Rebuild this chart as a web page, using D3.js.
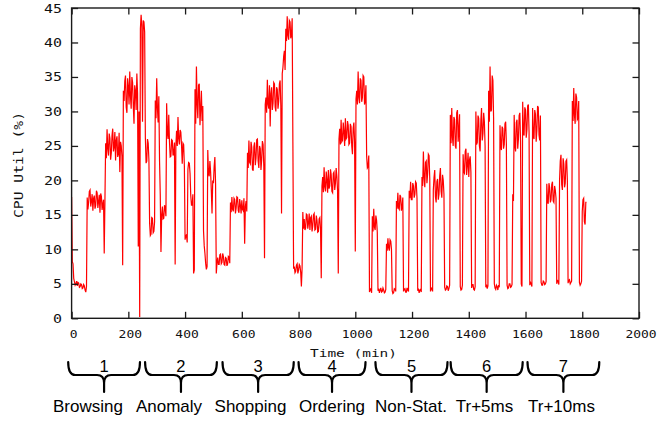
<!DOCTYPE html>
<html><head><meta charset="utf-8">
<script src="https://cdn.jsdelivr.net/npm/d3@7"></script>
<style>html,body{margin:0;padding:0;background:#fff;} svg{display:block}</style>
</head><body>
<svg id="chart" width="658" height="421"></svg>
<script>
// ---- data ----
const startMin = 0;
const stepMin = 2.5;
const cpuUtil = [
 17.6, 8.2, 7.9, 5.8, 5.3, 4.8, 5.0, 5.4, 4.7, 5.2,
 5.1, 4.5, 4.6, 5.0, 4.9, 4.3, 4.4, 4.9, 4.7, 4.1,
 3.8, 4.6, 17.5, 15.8, 16.8, 18.4, 18.6, 16.2, 17.0, 18.0,
 15.6, 17.4, 17.8, 15.9, 16.4, 18.5, 18.2, 16.0, 16.9, 17.9,
 15.3, 18.1, 17.7, 15.7, 16.6, 17.2, 9.4, 17.0, 25.4, 23.2,
 27.4, 24.6, 23.6, 26.8, 26.1, 23.0, 24.0, 26.5, 27.5, 24.2,
 24.8, 27.0, 22.9, 25.8, 26.4, 23.4, 23.8, 26.9, 21.2, 25.6,
 25.0, 23.5, 7.7, 33.0, 31.5, 34.4, 35.2, 30.6, 29.8, 34.8,
 33.6, 31.0, 35.8, 32.2, 30.4, 35.0, 34.2, 30.8, 28.2, 33.8,
 33.0, 30.2, 35.5, 32.6, 10.4, 30.0, 0.2, 42.0, 44.0, 42.5,
 28.5, 43.2, 43.0, 41.5, 26.2, 22.5, 22.8, 26.0, 25.4, 23.0,
 13.8, 12.0, 12.2, 14.6, 14.5, 12.4, 12.6, 14.0, 31.6, 29.0,
 34.8, 30.5, 28.4, 32.2, 22.8, 18.0, 9.6, 15.0, 16.2, 14.4,
 14.5, 16.4, 16.0, 14.8, 31.2, 27.0, 26.0, 29.5, 25.6, 23.4,
 23.5, 25.9, 25.8, 23.6, 24.0, 25.5, 7.8, 25.0, 27.2, 25.0,
 29.2, 26.0, 25.2, 27.3, 27.0, 25.1, 22.4, 25.4, 25.2, 22.1,
 11.4, 12.0, 12.1, 11.0, 21.6, 22.6, 22.5, 21.0, 17.8, 16.4,
 16.4, 18.0, 6.5, 7.0, 33.2, 28.2, 36.5, 31.0, 29.0, 33.8,
 34.0, 28.0, 30.4, 33.0, 28.6, 30.8, 12.7, 10.5, 9.4, 8.0,
 7.1, 7.5, 24.4, 21.0, 20.6, 22.8, 21.2, 18.5, 15.2, 20.0,
 19.6, 22.0, 23.4, 19.5, 6.5, 8.0, 8.8, 7.8, 7.8, 9.2,
 9.3, 7.9, 8.1, 9.4, 9.0, 7.8, 7.7, 8.8, 8.7, 7.6,
 7.9, 9.0, 8.9, 8.0, 16.8, 15.4, 17.6, 15.8, 15.5, 17.4,
 17.2, 15.2, 16.0, 17.6, 17.5, 15.6, 15.3, 17.3, 16.4, 15.2,
 17.1, 15.8, 15.6, 17.4, 10.8, 16.2, 17.0, 15.5, 24.0, 21.8,
 25.8, 22.6, 22.4, 25.6, 24.8, 21.6, 21.4, 24.9, 25.5, 22.2,
 23.2, 25.9, 26.0, 22.8, 21.8, 25.0, 24.6, 21.5, 23.0, 25.7,
 25.2, 22.0, 8.7, 31.0, 32.0, 29.8, 34.6, 31.0, 30.4, 33.8,
 27.8, 32.6, 33.5, 30.2, 31.2, 34.2, 34.0, 30.6, 30.0, 33.5,
 33.2, 30.4, 31.5, 34.0, 34.5, 30.8, 15.2, 35.5, 36.4, 38.0,
 38.8, 36.0, 42.0, 40.2, 43.8, 41.0, 40.4, 43.2, 43.0, 40.6,
 41.2, 43.5, 25.4, 7.2, 7.5, 6.6, 6.8, 7.7, 7.9, 6.5,
 7.0, 7.8, 7.6, 6.7, 4.6, 7.3, 15.4, 13.0, 14.4, 12.8,
 13.1, 15.1, 15.0, 13.0, 13.8, 15.2, 12.8, 14.6, 14.8, 12.6,
 13.4, 15.0, 15.2, 12.8, 12.9, 14.9, 14.2, 12.5, 12.6, 14.4,
 14.6, 12.9, 5.8, 19.2, 20.5, 18.3, 21.9, 19.0, 18.4, 21.3,
 20.0, 18.2, 21.5, 18.8, 19.2, 21.6, 20.8, 18.4, 18.2, 21.0,
 21.2, 18.6, 19.6, 21.8, 20.6, 18.5, 6.5, 26.0, 27.5, 25.2,
 28.8, 25.6, 25.8, 28.4, 27.0, 25.0, 29.0, 26.0, 26.2, 28.6,
 28.0, 25.2, 25.4, 28.2, 27.8, 25.0, 23.8, 27.6, 28.4, 25.6,
 9.7, 31.8, 33.0, 31.0, 35.8, 32.0, 31.2, 34.8, 34.5, 31.4,
 32.0, 35.2, 35.0, 31.0, 31.5, 33.8, 23.5, 21.8, 22.0, 23.6,
 3.8, 4.2, 4.3, 3.7, 14.8, 12.6, 15.9, 13.2, 12.8, 14.9,
 14.2, 12.5, 4.0, 4.3, 3.7, 4.1, 4.4, 3.8, 3.9, 4.4,
 4.1, 3.7, 3.8, 4.2, 10.8, 9.8, 11.6, 10.2, 9.8, 11.4,
 11.2, 10.0, 4.0, 3.6, 3.7, 4.3, 4.2, 3.9, 17.0, 15.9,
 18.2, 16.0, 15.8, 17.9, 17.6, 15.6, 16.2, 17.5, 3.9, 4.2,
 4.3, 3.8, 3.8, 4.4, 4.1, 3.9, 18.5, 17.4, 19.8, 17.2,
 17.2, 19.6, 19.2, 17.5, 18.0, 19.8, 19.6, 17.4, 4.0, 4.3,
 3.7, 4.1, 4.2, 3.8, 20.5, 19.2, 24.2, 20.4, 19.0, 22.6,
 22.8, 19.6, 21.0, 23.8, 23.6, 20.2, 3.9, 4.4, 4.3, 3.9,
 18.6, 20.4, 21.5, 17.6, 16.8, 19.8, 20.2, 17.2, 18.0, 20.6,
 21.8, 18.4, 17.5, 20.8, 20.0, 18.0, 4.5, 4.1, 4.2, 4.7,
 4.6, 4.0, 4.3, 4.8, 29.5, 25.4, 30.5, 26.2, 25.0, 29.2,
 28.8, 25.0, 24.6, 29.8, 30.2, 25.6, 27.5, 29.6, 4.6, 4.1,
 4.2, 4.8, 23.8, 21.2, 21.0, 24.2, 24.6, 20.8, 22.2, 24.0,
 20.5, 23.0, 23.5, 21.2, 4.4, 4.9, 4.9, 4.2, 4.1, 4.6,
 30.0, 25.2, 25.5, 29.4, 29.0, 25.0, 24.2, 28.6, 30.5, 25.8,
 26.8, 29.8, 28.5, 25.0, 4.5, 4.9, 4.3, 4.7, 33.0, 28.5,
 36.5, 30.0, 30.2, 35.2, 34.5, 29.0, 5.0, 4.4, 4.2, 4.8,
 4.6, 4.1, 4.8, 4.5, 28.0, 25.0, 24.4, 27.8, 27.5, 24.6,
 25.2, 28.2, 28.5, 25.4, 4.8, 4.3, 4.4, 5.0, 5.0, 4.5,
 4.6, 4.9, 18.0, 17.0, 29.5, 25.0, 24.2, 28.4, 28.8, 24.6,
 26.0, 29.4, 29.8, 25.6, 5.0, 4.6, 31.4, 26.8, 26.5, 30.6,
 30.2, 26.2, 27.4, 30.8, 31.0, 27.0, 4.8, 5.2, 5.0, 4.6,
 30.5, 26.4, 26.0, 30.2, 29.6, 25.6, 27.2, 30.8, 30.6, 26.6,
 25.8, 29.4, 5.2, 4.8, 4.8, 5.4, 5.3, 4.9, 5.0, 5.3,
 19.5, 17.0, 16.6, 19.6, 19.0, 16.8, 17.2, 19.4, 19.8, 17.0,
 16.8, 19.2, 18.6, 17.4, 5.0, 5.5, 5.4, 4.9, 20.0, 22.8,
 23.7, 19.4, 18.6, 23.2, 22.4, 19.0, 19.6, 22.8, 23.0, 20.0,
 5.1, 5.5, 5.6, 5.0, 5.2, 5.4, 31.5, 28.6, 33.4, 29.4,
 28.2, 32.6, 32.0, 28.8, 29.0, 31.5, 5.2, 4.8, 5.0, 5.4,
 15.5, 17.2, 17.4, 14.0, 13.6, 16.8, 16.8
];
const xTicks = [0, 200, 400, 600, 800, 1000, 1200, 1400, 1600, 1800, 2000];
const yTicks = [0, 5, 10, 15, 20, 25, 30, 35, 40, 45];
const xLabel = "Time (min)";
const yLabel = "CPU Util (%)";
const phaseNumbers = ["1", "2", "3", "4", "5", "6", "7"];
const phaseNames = ["Browsing", "Anomaly", "Shopping", "Ordering", "Non-Stat.", "Tr+5ms", "Tr+10ms"];
const phaseStartMin = [-12, 259, 532, 800, 1071, 1336, 1607];
const phaseEndMin = [241, 512, 783, 1036, 1325, 1590, 1860];

// ---- layout ----
const svg = d3.select("#chart");
const plot = {left: 71.6, right: 639, top: 8, bottom: 318.3};
const x = d3.scaleLinear().domain([0, 2000]).range([plot.left, plot.right]);
const y = d3.scaleLinear().domain([0, 45]).range([plot.bottom, plot.top]);
const monoFont = "'DejaVu Sans Mono', 'Liberation Mono', monospace";
const sansFont = "'Liberation Sans', Arial, sans-serif";

// series
const pts = cpuUtil.map((v, i) => [startMin + i * stepMin, v]);
svg.append("path")
  .datum(pts)
  .attr("fill", "none")
  .attr("stroke", "#ff0000")
  .attr("stroke-width", 1.2)
  .attr("stroke-linejoin", "miter")
  .attr("d", d3.line().x(d => x(d[0])).y(d => y(d[1])));

// axes (gnuplot-like: inward ticks, mirrored)
const tickLen = 6.5;
const axisStyle = g => {
  g.select(".domain").remove();
  g.selectAll(".tick line").attr("stroke", "#1a1a1a").attr("stroke-width", 1.3);
  g.selectAll(".tick text").remove();
};
svg.append("g").attr("transform", `translate(0,${plot.bottom})`)
  .call(d3.axisBottom(x).tickValues(xTicks).tickSizeInner(-tickLen).tickSizeOuter(0)).call(axisStyle);
svg.append("g").attr("transform", `translate(0,${plot.top})`)
  .call(d3.axisTop(x).tickValues(xTicks).tickSizeInner(-tickLen).tickSizeOuter(0)).call(axisStyle);
svg.append("g").attr("transform", `translate(${plot.left},0)`)
  .call(d3.axisLeft(y).tickValues(yTicks).tickSizeInner(-tickLen).tickSizeOuter(0)).call(axisStyle);
svg.append("g").attr("transform", `translate(${plot.right},0)`)
  .call(d3.axisRight(y).tickValues(yTicks).tickSizeInner(-tickLen).tickSizeOuter(0)).call(axisStyle);

// frame
svg.append("rect")
  .attr("x", plot.left).attr("y", plot.top)
  .attr("width", plot.right - plot.left).attr("height", plot.bottom - plot.top)
  .attr("fill", "none").attr("stroke", "#1a1a1a").attr("stroke-width", 1.4);

// tick labels
svg.append("g").selectAll("text").data(yTicks).join("text")
  .attr("x", 62).attr("y", d => y(d)).attr("dy", "0.36em")
  .attr("text-anchor", "end")
  .attr("font-family", monoFont).attr("font-size", 12.5).attr("fill", "#111")
  .attr("textLength", d => String(d).length * 9).attr("lengthAdjust", "spacingAndGlyphs")
  .text(d => d);
svg.append("g").selectAll("text").data(xTicks).join("text")
  .attr("x", d => x(d) + 2).attr("y", 337.5)
  .attr("text-anchor", "middle")
  .attr("font-family", monoFont).attr("font-size", 11.2).attr("fill", "#111")
  .attr("textLength", d => String(d).length * 7.8).attr("lengthAdjust", "spacingAndGlyphs")
  .text(d => d);

// axis titles
svg.append("text")
  .attr("x", 353.5).attr("y", 356.5).attr("text-anchor", "middle")
  .attr("font-family", monoFont).attr("font-size", 11.2).attr("fill", "#111")
  .attr("textLength", 87).attr("lengthAdjust", "spacingAndGlyphs")
  .text(xLabel);
svg.append("text")
  .attr("transform", "translate(23.3,165) rotate(-90)")
  .attr("text-anchor", "middle")
  .attr("font-family", monoFont).attr("font-size", 11.5).attr("fill", "#111")
  .attr("textLength", 106).attr("lengthAdjust", "spacingAndGlyphs")
  .text(yLabel);

// phase braces
const braceTop = 362, braceMid = 375, braceTip = 392, r = 7;
function bracePath(s, e) {
  const x0 = x(s), x1 = x(e), xc = (x0 + x1) / 2;
  return `M${x0},${braceTop} Q${x0},${braceMid} ${x0 + r},${braceMid} L${xc - r},${braceMid} ` +
         `Q${xc},${braceMid} ${xc},${braceMid + 8} L${xc},${braceTip} L${xc},${braceMid + 8} ` +
         `Q${xc},${braceMid} ${xc + r},${braceMid} L${x1 - r},${braceMid} Q${x1},${braceMid} ${x1},${braceTop}`;
}
svg.append("g").selectAll("path").data(phaseStartMin).join("path")
  .attr("d", (s, i) => bracePath(s, phaseEndMin[i]))
  .attr("fill", "none").attr("stroke", "#000").attr("stroke-width", 2.2)
  .attr("stroke-linejoin", "round").attr("stroke-linecap", "round");
svg.append("g").selectAll("text").data(phaseNumbers).join("text")
  .attr("x", (d, i) => (x(phaseStartMin[i]) + x(phaseEndMin[i])) / 2)
  .attr("y", 372).attr("text-anchor", "middle")
  .attr("font-family", sansFont).attr("font-size", 16.5).attr("fill", "#000")
  .text(d => d);
const nameCenters = [88, 169, 250.5, 332, 411, 484.5, 561.5];
svg.append("g").selectAll("text").data(phaseNames).join("text")
  .attr("x", (d, i) => nameCenters[i])
  .attr("y", 412).attr("text-anchor", "middle")
  .attr("font-family", sansFont).attr("font-size", 17).attr("fill", "#000")
  .text(d => d);
</script>
</body></html>
